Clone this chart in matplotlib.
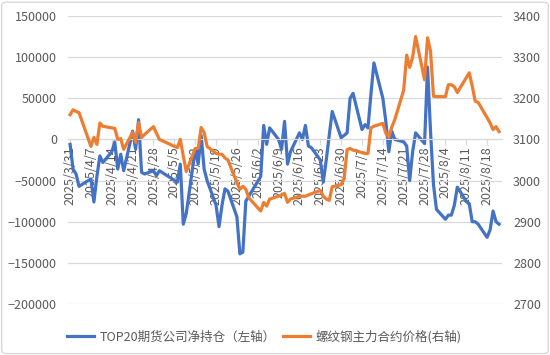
import matplotlib
matplotlib.use("Agg")
import matplotlib.pyplot as plt
from matplotlib.patches import FancyBboxPatch
import pandas as pd

plt.rcParams["font.family"] = ["Noto Sans CJK SC", "DejaVu Sans"]

# 交易日
datas = [
    "2025-03-31", "2025-04-01", "2025-04-02", "2025-04-03",
    "2025-04-07", "2025-04-08", "2025-04-09", "2025-04-10", "2025-04-11",
    "2025-04-14", "2025-04-15", "2025-04-16", "2025-04-17", "2025-04-18",
    "2025-04-21", "2025-04-22", "2025-04-23", "2025-04-24", "2025-04-25",
    "2025-04-28", "2025-04-29", "2025-04-30",
    "2025-05-06", "2025-05-07", "2025-05-08", "2025-05-09",
    "2025-05-12", "2025-05-13", "2025-05-14", "2025-05-15", "2025-05-16",
    "2025-05-19", "2025-05-20", "2025-05-21", "2025-05-22", "2025-05-23",
    "2025-05-26", "2025-05-27", "2025-05-28", "2025-05-29", "2025-05-30",
    "2025-06-03", "2025-06-04", "2025-06-05", "2025-06-06",
    "2025-06-09", "2025-06-10", "2025-06-11", "2025-06-12", "2025-06-13",
    "2025-06-16", "2025-06-17", "2025-06-18", "2025-06-19", "2025-06-20",
    "2025-06-23", "2025-06-24", "2025-06-25", "2025-06-26", "2025-06-27",
    "2025-06-30", "2025-07-01", "2025-07-02", "2025-07-03", "2025-07-04",
    "2025-07-07", "2025-07-08", "2025-07-09", "2025-07-10", "2025-07-11",
    "2025-07-14", "2025-07-15", "2025-07-16", "2025-07-17", "2025-07-18",
    "2025-07-21", "2025-07-22", "2025-07-23", "2025-07-24", "2025-07-25",
    "2025-07-28", "2025-07-29", "2025-07-30", "2025-07-31", "2025-08-01",
    "2025-08-04", "2025-08-05", "2025-08-06", "2025-08-07", "2025-08-08",
    "2025-08-11", "2025-08-12", "2025-08-13", "2025-08-14", "2025-08-15",
    "2025-08-18", "2025-08-19", "2025-08-20", "2025-08-21", "2025-08-22",
]

# TOP20期货公司净持仓（左轴）
net_pos = [
    -6000, -36000, -42000, -57000,
    -48000, -76000, -45000, -20000, -28000,
    -15000, -3000, -36000, -18000, -38000,
    10000, -12000, 24000, -40000, -42000,
    -38000, -44000, -38000,
    -52000, -30000, -103000, -90000,
    -12000, -30000, 5000, -36000, -50000,
    -80000, -106000, -80000, -60000, -63000,
    -94000, -139000, -137000, -75000, -69000,
    -45000, 17000, -6000, 14000,
    0, -12000, 22000, -30000, -15000,
    8000, 0, 17000, -8000, -10000,
    -25000, -52000, -25000, 5000, 34000,
    2000, 5000, 8000, 50000, 56000,
    12000, 18000, 14000, 55000, 93000,
    50000, 22000, -15000, 10000, 0,
    -3000, -8000, -50000, -15000, 8000,
    -5000, 88000, 10000, -55000, -85000,
    -97000, -92000, -92000, -80000, -58000,
    -75000, -78000, -100000, -100000, -103000,
    -119000, -110000, -87000, -100000, -103000,
]

# 螺纹钢主力合约价格（右轴）
preco = [
    3160, 3172, 3168, 3165,
    3083, 3105, 3088, 3140, 3132,
    3128, 3127, 3100, 3102, 3076,
    3117, 3093, 3141, 3105, 3112,
    3131, 3115, 3100,
    3080, 3100, 3060, 3022,
    3078, 3078, 3129, 3117, 3083,
    3066, 3064, 3064, 3055, 3050,
    2995, 2979, 2986, 2979, 2958,
    2926, 2947, 2938, 2955,
    2962, 2965, 2969, 2947, 2955,
    2962, 2962, 2962, 2965, 2968,
    2976, 2962, 2955, 2952, 2985,
    2990, 3005, 3075, 3078, 3074,
    3068, 3066, 3066, 3128, 3132,
    3139, 3115, 3105, 3130, 3148,
    3220, 3305, 3275, 3300, 3350,
    3245, 3347, 3315, 3205, 3204,
    3204, 3233, 3233, 3228, 3214,
    3250, 3262, 3230, 3193, 3190,
    3153, 3140, 3124, 3131, 3119,
]

rotulo_azul = "TOP20期货公司净持仓（左轴）"
rotulo_laranja = "螺纹钢主力合约价格(右轴)"

AZUL = "#4472C4"
LARANJA = "#ED7D31"
CINZA_TXT = "#595959"
CINZA_GRADE = "#D9D9D9"

x = pd.to_datetime(datas)
ticks = pd.date_range("2025-03-31", "2025-08-18", freq="7D")

fig = plt.figure(figsize=(5.5, 3.55), dpi=100)
ax = fig.add_axes([68 / 550, 1 - 304 / 355, 434 / 550, 288 / 355])
ax2 = ax.twinx()

ax.plot(x, net_pos, color=AZUL, lw=2.3, solid_joinstyle="round", label=rotulo_azul)
ax2.plot(x, preco, color=LARANJA, lw=2.3, solid_joinstyle="round", label=rotulo_laranja)

ax.set_ylim(-200000, 150000)
ax.set_yticks(range(-200000, 150001, 50000))
ax2.set_ylim(2700, 3400)
ax2.set_yticks(range(2700, 3401, 100))
ax.set_xlim(x[0] - pd.Timedelta(days=0.7), x[-1] + pd.Timedelta(days=1))

ax.grid(axis="y", color=CINZA_GRADE, lw=0.9)
ax.set_axisbelow(True)
for a in (ax, ax2):
    for s in a.spines.values():
        s.set_visible(False)

# eixo x cruza em 0, como no Excel
ax.spines["bottom"].set_visible(True)
ax.spines["bottom"].set_position(("data", 0))
ax.spines["bottom"].set_color(CINZA_GRADE)
ax.set_xticks(ticks)
ax.set_xticklabels([f"{d.year}/{d.month}/{d.day}" for d in ticks], rotation=90)
ax.tick_params(axis="x", colors=CINZA_GRADE, labelcolor=CINZA_TXT, labelsize=9,
               length=4, width=0.9, pad=1)
ax.tick_params(axis="y", length=0, labelcolor=CINZA_TXT, labelsize=9, pad=8)
ax2.tick_params(axis="y", length=0, labelcolor=CINZA_TXT, labelsize=9, pad=8)

h1, l1 = ax.get_legend_handles_labels()
h2, l2 = ax2.get_legend_handles_labels()
fig.legend(h1 + h2, l1 + l2, loc="center", bbox_to_anchor=(0.48, 1 - 337 / 355),
           ncol=2, frameon=False, fontsize=9, handlelength=2.2, handletextpad=0.4,
           columnspacing=0.6, labelcolor=CINZA_TXT)

borda = FancyBboxPatch((0.003, 0.004), 0.994, 0.99, boxstyle="round,pad=0,rounding_size=0.01",
                       transform=fig.transFigure, fill=False, edgecolor=CINZA_GRADE, lw=1)
fig.patches.append(borda)

fig.savefig("out.png", dpi=100)
